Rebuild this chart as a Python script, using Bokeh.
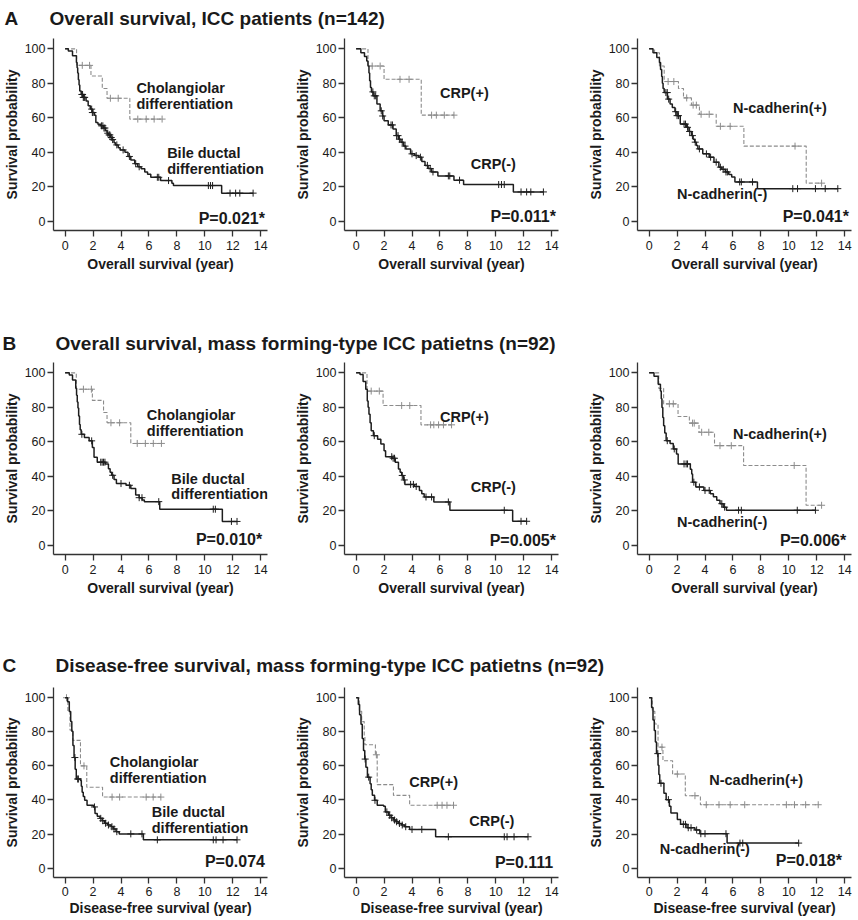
import numpy as np
from bokeh.plotting import figure
from bokeh.layouts import row, column
from bokeh.models import FixedTicker, Range1d, Label
from bokeh.embed import file_html
from bokeh.resources import INLINE
from bokeh.core.properties import value

# ---------------- data ----------------
x_ticks = [0, 2, 4, 6, 8, 10, 12, 14]
y_ticks = [0, 20, 40, 60, 80, 100]

section_letters = ["A", "B", "C"]
section_titles = [
    "Overall survival, ICC patients (n=142)",
    "Overall survival, mass forming-type ICC patietns (n=92)",
    "Disease-free survival, mass forming-type ICC patietns (n=92)",
]
x_labels = ["Overall survival (year)", "Overall survival (year)", "Disease-free survival (year)"]
y_label = "Survival probability"

# --- A1: cholangiolar (dashed) vs bile ductal (solid)
A1_dash_t = [0, 0.82, 1.85, 2.66, 3.0, 4.63]
A1_dash_s = [100, 90.4, 84.2, 77.0, 71.3, 59.2]
A1_dash_c = [1.23, 1.75, 3.24, 3.8, 5.2, 5.8, 6.37, 6.94]
A1_solid_t = [0, 0.23, 0.53, 0.81, 0.86, 0.9, 0.95, 1.0, 1.05, 1.15, 1.3, 1.5, 1.65, 1.8, 1.95, 2.1, 2.2,
              2.35, 2.55, 2.75, 2.9, 3.0, 3.1, 3.25, 3.36, 3.5, 3.6, 3.8, 3.94, 4.28, 4.5, 4.7, 4.98, 5.2,
              5.44, 5.7, 5.9, 6.13, 6.83, 7.64, 7.75, 11.2]
A1_solid_s = [100, 98.7, 96, 92, 89, 86, 82, 79, 75.5, 73.5, 71.8, 69.7, 67, 65, 63, 61.5, 57.2,
              56.2, 55.3, 54, 52.5, 51, 50, 48.5, 47.3, 45.5, 44.2, 42.5, 41.3, 39.9, 37.5, 35.5, 33.3, 31.5,
              30.3, 28.5, 27.2, 25.4, 23.5, 22, 20.6, 16.2]
A1_solid_c = [1.2, 1.25, 1.3, 1.35, 1.4, 1.9, 1.95, 2.0, 2.6, 2.7, 2.78, 2.85, 3.05, 3.15, 3.2, 3.3, 3.4,
              3.7, 4.15, 4.6, 5.05, 5.3, 6.6, 6.7, 7.4, 10.25, 10.4, 10.55, 11.8, 12.2, 12.5, 13.45]

# --- A2: CRP(+) (dashed) vs CRP(-) (solid)
A2_dash_t = [0, 0.85, 2.0, 4.66]
A2_dash_s = [100, 90, 82.3, 61.5]
A2_dash_c = [1.15, 1.72, 3.14, 3.79, 5.4, 5.74, 6.31, 7.0]
A2_solid_t = [0, 0.34, 0.6, 0.76, 0.85, 0.92, 0.97, 1.03, 1.1, 1.22, 1.49, 1.72, 1.9, 2.0, 2.3, 2.64, 2.87,
              3.05, 3.21, 3.4, 3.56, 3.9, 4.2, 4.48, 4.7, 4.93, 5.15, 5.39, 5.85, 7.0, 7.69, 11.25]
A2_solid_s = [100, 97.7, 95.5, 92.9, 90, 86, 81.5, 77.5, 75, 72.7, 67.9, 64, 61, 58.3, 55.8, 53.5, 49.6,
              47.5, 45.8, 43.5, 41.9, 39, 38, 37.1, 34.5, 32.3, 30.5, 28.5, 26.2, 23.7, 21.2, 16.9]
A2_solid_c = [1.2, 1.3, 1.4, 1.8, 1.9, 2.5, 2.6, 2.9, 3.0, 3.1, 3.3, 3.5, 4.0, 4.3, 4.6, 5.1, 5.3, 5.5,
              6.6, 6.7, 7.4, 10.2, 10.4, 10.6, 11.8, 12.2, 12.5, 13.4]

# --- A3: N-cadherin(+) (dashed) vs N-cadherin(-) (solid)
A3_dash_t = [0, 0.39, 0.74, 1.08, 2.1, 2.46, 3.03, 3.6, 4.8, 6.78, 11.24]
A3_dash_s = [100, 97.7, 90, 81, 77, 71.5, 67.3, 62, 55, 43.5, 22]
A3_dash_c = [1.36, 1.77, 2.69, 3.15, 3.38, 3.72, 4.3, 5.1, 5.8, 10.44, 12.34]
A3_solid_t = [0, 0.28, 0.55, 0.74, 0.82, 0.9, 0.95, 1.0, 1.08, 1.31, 1.5, 1.66, 1.85, 2.0, 2.23, 2.69, 2.85,
              3.03, 3.15, 3.26, 3.38, 3.49, 3.84, 4.3, 4.64, 4.99, 5.2, 5.45, 5.7, 5.91, 6.14, 7.75]
A3_solid_s = [100, 97.7, 95, 92, 88, 84, 80, 77, 74.6, 70.8, 68, 66, 63.5, 61.2, 56.3, 54.4, 52,
              49.6, 47.5, 45.8, 43.8, 41.9, 39, 37.1, 34.2, 31.3, 30, 28.5, 27, 25.6, 22.7, 18.8]
A3_solid_c = [1.2, 1.3, 1.4, 1.9, 2.0, 2.1, 2.5, 2.6, 2.75, 2.9, 3.1, 3.3, 3.6, 4.1, 4.4, 4.8, 5.1, 5.3,
              5.5, 5.6, 6.48, 6.6, 7.4, 10.28, 10.62, 11.9, 12.6, 13.5]

# --- B1
B1_dash_t = [0, 0.8, 1.95, 2.75, 3.0, 4.7]
B1_dash_s = [100, 90.5, 84, 77, 71, 59]
B1_dash_c = [1.31, 1.88, 3.28, 3.9, 5.16, 5.74, 6.31, 6.89]
B1_solid_t = [0, 0.3, 0.53, 0.76, 0.82, 0.87, 0.92, 0.97, 1.03, 1.08, 1.15, 1.38, 1.72, 1.95, 2.07, 2.3,
              2.87, 3.1, 3.22, 3.33, 3.5, 3.67, 4.36, 4.7, 5.05, 5.3, 5.51, 5.67, 6.77, 11.25]
B1_solid_s = [100, 98.7, 95.8, 91, 87, 83, 79.6, 75, 70, 67, 64.3, 62.4, 60.5, 56.7, 51, 48.1,
              47.1, 44.3, 42.3, 40.5, 38, 35.7, 34.7, 32.8, 29, 27.5, 26.1, 25.2, 20.8, 13.7]
B1_solid_c = [1.2, 1.9, 2.55, 2.65, 2.75, 2.85, 3.4, 4.0, 4.6, 5.3, 5.5, 6.7, 10.6, 10.75, 11.9, 12.3]

# --- B2
B2_dash_t = [0, 0.78, 1.93, 4.64]
B2_dash_s = [100, 89.4, 81, 69.8]
B2_dash_c = [1.08, 1.66, 3.26, 3.84, 5.33, 5.56, 5.9, 6.25, 6.83]
B2_solid_t = [0, 0.28, 0.5, 0.69, 0.8, 0.86, 0.92, 1.0, 1.08, 1.24, 1.54, 1.77, 2.0, 2.11, 2.57, 2.8,
              3.03, 3.15, 3.26, 3.38, 3.49, 4.18, 4.53, 4.7, 4.87, 5.56, 6.71, 11.2]
B2_solid_s = [100, 99, 95, 90.4, 83.7, 80, 76, 71, 66.3, 63.5, 61.5, 58.7, 54.8, 51.3, 50.4, 48.1,
              44.2, 42.3, 40.4, 37.8, 35.2, 34, 31.7, 29.8, 27.9, 25, 20.2, 13.8]
B2_solid_c = [1.3, 2.55, 2.65, 2.75, 3.3, 3.45, 3.9, 4.1, 4.3, 5.0, 5.4, 6.6, 10.6, 11.8, 12.2]

# --- B3
B3_dash_t = [0, 0.69, 1.04, 2.07, 2.88, 3.57, 4.68, 6.76, 11.23]
B3_dash_s = [100, 91, 82, 74.6, 70.8, 65.5, 57.7, 46.2, 23.1]
B3_dash_c = [1.45, 1.73, 3.11, 3.23, 3.76, 4.27, 5.07, 5.88, 10.38, 12.34]
B3_solid_t = [0, 0.35, 0.65, 0.81, 0.87, 0.92, 0.98, 1.04, 1.12, 1.22, 1.5, 1.73, 1.96, 2.08, 2.95,
              3.05, 3.11, 3.34, 3.92, 4.38, 4.6, 4.84, 5.07, 5.3, 5.53]
B3_solid_s = [100, 98, 93.3, 89.4, 85, 79.8, 74, 69.2, 65, 60.6, 59, 55.8, 52.9, 47.1, 44,
              41.3, 36.5, 33.7, 31.7, 29.8, 28, 26, 24, 22, 20.2]
B3_solid_c = [1.3, 1.8, 2.5, 2.65, 2.75, 3.2, 3.6, 4.0, 4.3, 5.2, 5.4, 6.4, 6.6, 10.6, 11.9]

# --- C1
C1_dash_t = [0, 0.2, 0.35, 0.55, 1.1, 1.55, 2.68]
C1_dash_s = [100, 92, 81, 75, 60, 47.5, 41.7]
C1_dash_c = [0.1, 1.35, 3.36, 3.9, 5.8, 6.3, 6.85]
C1_solid_t = [0, 0.18, 0.3, 0.4, 0.48, 0.56, 0.64, 0.72, 0.8, 1.1, 1.16, 1.22, 1.3, 1.4, 1.57, 2.03,
              2.14, 2.3, 2.49, 2.65, 2.83, 3.05, 3.29, 3.45, 3.64, 3.87, 5.6]
C1_solid_s = [100, 97.7, 91.9, 86, 80.3, 72, 64.9, 58, 52.3, 51.4, 48, 44.6, 42, 39.8, 36.9, 35.9,
              32, 30.5, 29.2, 27.8, 26.3, 25.3, 24.3, 23, 21.4, 20.1, 16.6]
C1_solid_c = [0.7, 0.9, 0.95, 2.1, 2.55, 2.7, 2.9, 3.1, 3.35, 3.5, 3.7, 4.7, 5.5, 6.6, 10.6, 10.8, 11.3, 12.3]

# --- C2
C2_dash_t = [0, 0.23, 0.4, 0.58, 0.63, 1.38, 1.51, 2.67, 3.83]
C2_dash_s = [100, 92, 86, 77.7, 72.4, 66.5, 49, 42.7, 36.9]
C2_dash_c = [1.45, 5.8, 6.15, 6.5, 6.97]
C2_solid_t = [0, 0.16, 0.25, 0.35, 0.44, 0.53, 0.62, 0.7, 0.81, 1.0, 1.08, 1.16, 1.32, 1.51, 1.97, 2.09,
              2.32, 2.5, 2.67, 2.85, 3.02, 3.25, 3.48, 3.83, 5.69]
C2_solid_s = [100, 96, 90, 84.5, 76, 69, 64, 59.2, 53.4, 49.5, 46, 42.7, 39.8, 36.9, 36.3, 33,
              31, 29.5, 28.2, 27.2, 26.2, 25.3, 24.3, 22.7, 18.4]
C2_solid_c = [0.65, 0.9, 1.35, 2.2, 2.4, 2.55, 2.75, 2.9, 3.1, 3.3, 3.55, 4.0, 4.7, 6.6, 10.6, 10.8, 11.3, 12.3]

# --- C3
C3_dash_t = [0, 0.23, 0.41, 0.64, 0.99, 1.68, 2.59, 3.67]
C3_dash_s = [100, 92, 84.6, 71, 63, 55.2, 42.5, 37.2]
C3_dash_c = [0.92, 2.02, 3.28, 4.09, 5.0, 5.8, 6.84, 9.82, 10.4, 11.2, 12.1]
C3_solid_t = [0, 0.18, 0.28, 0.37, 0.45, 0.53, 0.64, 0.7, 0.76, 1.06, 1.22, 1.45, 1.56, 2.02, 2.25,
              2.71, 3.28, 3.63, 5.58]
C3_solid_s = [100, 94.2, 87, 80.7, 74, 67.2, 60.4, 55, 49.8, 44, 40.2, 36.3, 32.4, 28.6, 25.7,
              23.7, 22.4, 20.2, 14.7]
C3_solid_c = [0.62, 0.85, 1.38, 2.45, 2.6, 2.8, 3.0, 3.4, 3.7, 4.0, 5.5, 6.5, 6.7, 10.7]

# annotation texts per panel
A1_labels = ["Cholangiolar", "differentiation", "Bile ductal", "differentiation"]
A2_labels = ["CRP(+)", "CRP(-)"]
A3_labels = ["N-cadherin(+)", "N-cadherin(-)"]
p_values = [["P=0.021*", "P=0.011*", "P=0.041*"],
            ["P=0.010*", "P=0.005*", "P=0.006*"],
            ["P=0.074", "P=0.111", "P=0.018*"]]

# ---------------- styling / layout ----------------
FONT = "Liberation Sans"
SOLID = "#1e1e1e"
DASH = "#8c8c8c"
TXT = "#1a1a1a"
XR = (-0.83, 14.48)
YR = (-5.5, 106)
FRAME_W = 214
BORDER_L = [48, 48, 48]
BORDER_R = [24, 26, 8]
TITLE_H = 30
ROW_TOP = [8, 7, 10]
ROW_FRAME_H = [192, 192, 190]
ROW_BOTTOM = [95, 93, 42]
X_STANDOFF = [(4, 3), (4, 3), (3, 1)]
TITLE_TEXT_X = [49, 55, 55]
LETTER_X = [4, 2, 2]


def surv_at(t, s, c):
    t = np.asarray(t)
    s = np.asarray(s)
    idx = np.searchsorted(t, np.asarray(c), side="right") - 1
    return s[idx]


def draw_curve(p, t, s, c, color, width, dash):
    end = max(t[-1], c[-1] if len(c) else t[-1])
    xs = list(t) + [end]
    ys = list(s) + [s[-1]]
    p.step(x=xs, y=ys, mode="after", line_color=color, line_width=width, line_dash=dash)
    p.scatter(x=c, y=list(surv_at(t, s, c)), marker="cross", size=7,
              line_color=color, line_width=1.0)


def add_text(p, x, y, text, size, align):
    p.add_layout(Label(x=x, y=y, text=text, text_font=FONT, text_font_size=size,
                       text_font_style="bold", text_color=TXT, text_baseline="middle",
                       text_align=align))


def panel(col, rowi, xlabel, solid, dashed, texts, pval):
    p = figure(frame_width=FRAME_W, frame_height=ROW_FRAME_H[rowi],
               x_range=Range1d(*XR), y_range=Range1d(*YR),
               output_backend="svg", toolbar_location=None,
               min_border_left=BORDER_L[col], min_border_right=BORDER_R[col],
               min_border_top=ROW_TOP[rowi], min_border_bottom=ROW_BOTTOM[rowi])
    p.outline_line_color = None
    p.xgrid.visible = False
    p.ygrid.visible = False
    p.xaxis.ticker = FixedTicker(ticks=x_ticks)
    p.yaxis.ticker = FixedTicker(ticks=y_ticks)
    p.xaxis.axis_label = xlabel
    p.yaxis.axis_label = y_label
    for ax in (p.xaxis, p.yaxis):
        ax.minor_tick_line_color = None
        ax.major_tick_in = 0
        ax.major_tick_out = 6
        ax.axis_line_color = "#333333"
        ax.axis_line_width = 1.3
        ax.major_tick_line_color = "#333333"
        ax.major_tick_line_width = 1.3
        ax.major_label_text_font = FONT
        ax.major_label_text_font_size = "12.5px"
        ax.major_label_text_color = TXT
        ax.axis_label_text_font = FONT
        ax.axis_label_text_font_size = "14px"
        ax.axis_label_text_font_style = "bold"
        ax.axis_label_text_color = TXT
    p.xaxis.major_label_standoff = X_STANDOFF[rowi][0]
    p.xaxis.axis_label_standoff = X_STANDOFF[rowi][1]
    p.yaxis.major_label_standoff = 2
    p.yaxis.axis_label_standoff = 2

    draw_curve(p, *dashed, DASH, 1.1, "4 2")
    draw_curve(p, *solid, SOLID, 1.5, "solid")

    tx, ty, tt = texts
    for x, y, t in zip(tx, ty, tt):
        add_text(p, x, y, t, "14.5px", "left")
    add_text(p, pval[0], pval[1], pval[2], "16px", "right")
    return p


def title_fig(rowi):
    t = figure(frame_width=844, frame_height=TITLE_H, x_range=Range1d(0, 844), y_range=Range1d(0, TITLE_H),
               output_backend="svg", toolbar_location=None, min_border=0,
               x_axis_location=None, y_axis_location=None)
    t.outline_line_color = None
    t.grid.visible = False
    t.text(x=[LETTER_X[rowi], TITLE_TEXT_X[rowi]], y=[TITLE_H - 18, TITLE_H - 18],
           text=[section_letters[rowi], section_titles[rowi]], text_font=value(FONT),
           text_font_size="19px", text_font_style="bold", text_color=TXT,
           text_baseline="middle", text_align="left")
    return t


# annotation placement (x left, y centre) per panel
panels_spec = [
    [
        ((A1_solid_t, A1_solid_s, A1_solid_c), (A1_dash_t, A1_dash_s, A1_dash_c),
         ([5.1, 5.1, 7.3, 7.3], [77.5, 68.0, 39.5, 30.3], A1_labels), (14.3, 1.5)),
        ((A2_solid_t, A2_solid_s, A2_solid_c), (A2_dash_t, A2_dash_s, A2_dash_c),
         ([6.0, 8.2], [74.6, 33.3], A2_labels), (14.3, 2.5)),
        ((A3_solid_t, A3_solid_s, A3_solid_c), (A3_dash_t, A3_dash_s, A3_dash_c),
         ([6.0, 2.0], [65.4, 15.9], A3_labels), (14.3, 2.5)),
    ],
    [
        ((B1_solid_t, B1_solid_s, B1_solid_c), (B1_dash_t, B1_dash_s, B1_dash_c),
         ([5.85, 5.85, 7.6, 7.6], [75.6, 66.0, 38.5, 29.5], A1_labels), (14.1, 3.0)),
        ((B2_solid_t, B2_solid_s, B2_solid_c), (B2_dash_t, B2_dash_s, B2_dash_c),
         ([6.0, 8.2], [74.5, 33.7], A2_labels), (14.3, 2.9)),
        ((B3_solid_t, B3_solid_s, B3_solid_c), (B3_dash_t, B3_dash_s, B3_dash_c),
         ([6.0, 2.0], [64.4, 13.5], A3_labels), (14.1, 2.9)),
    ],
    [
        ((C1_solid_t, C1_solid_s, C1_solid_c), (C1_dash_t, C1_dash_s, C1_dash_c),
         ([3.2, 3.2, 6.2, 6.2], [62.0, 53.0, 33.0, 23.4], A1_labels), (14.3, 3.7)),
        ((C2_solid_t, C2_solid_s, C2_solid_c), (C2_dash_t, C2_dash_s, C2_dash_c),
         ([3.8, 8.1], [50.5, 27.8], A2_labels), (14.1, 3.5)),
        ((C3_solid_t, C3_solid_s, C3_solid_c), (C3_dash_t, C3_dash_s, C3_dash_c),
         ([0.76, 4.3], [11.5, 51.7], [A3_labels[1], A3_labels[0]]), (13.8, 4.4)),
    ],
]

children = []
for r in range(3):
    children.append(title_fig(r))
    figs = []
    for c in range(3):
        solid, dashed, texts, ppos = panels_spec[r][c]
        figs.append(panel(c, r, x_labels[r], solid, dashed, texts,
                          (ppos[0], ppos[1], p_values[r][c])))
    children.append(row(*figs, spacing=0))

layout = column(*children, spacing=0)

with open("out.html", "w") as f:
    f.write(file_html(layout, INLINE))
